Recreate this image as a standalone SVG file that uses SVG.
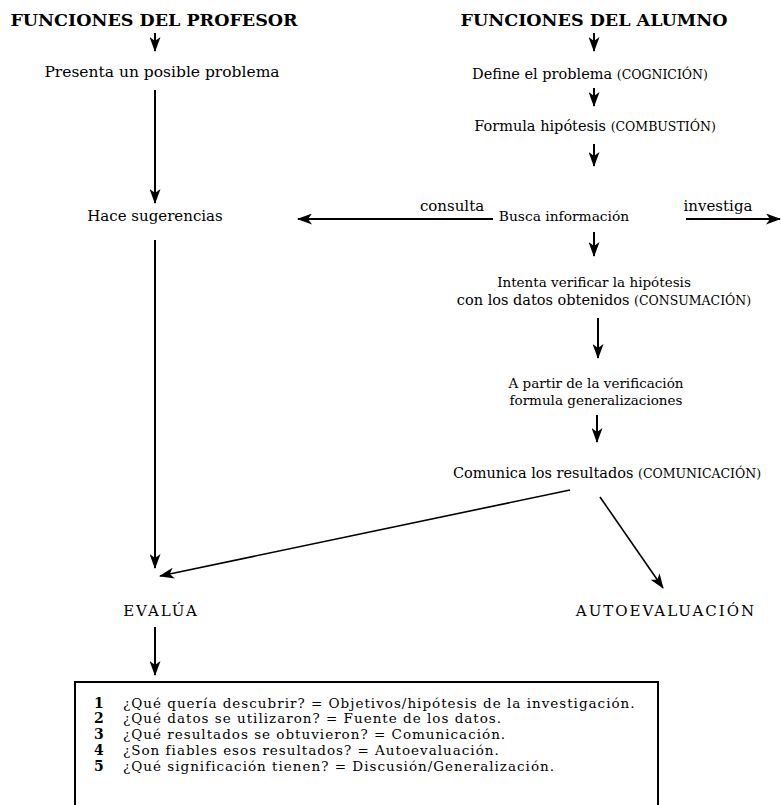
<svg xmlns="http://www.w3.org/2000/svg" width="781" height="805" viewBox="0 0 781 805">
<style>
text{font-family:"DejaVu Serif","Liberation Serif",serif;fill:#000}
.title{font-size:17.5px;font-weight:bold;text-anchor:middle}
.t{font-size:15px;text-anchor:middle}
.r{font-size:14.5px;text-anchor:middle}
.s{font-size:13.5px;text-anchor:middle}
.k{font-size:12.5px}
.caps{font-size:15px;text-anchor:middle;letter-spacing:2px}
.lst{font-size:13.5px;letter-spacing:1px}
.num{font-size:14px;font-weight:bold}
.c{stroke:#000;stroke-width:2;fill:none;marker-end:url(#ah)}
.d{stroke:#000;stroke-width:1.6;fill:none;marker-end:url(#ah)}
</style>
<defs>
<marker id="ah" markerUnits="userSpaceOnUse" markerWidth="15" markerHeight="11" refX="14" refY="5.5" orient="auto">
<path d="M0,0 L15,5.5 L0,11 L4,5.5 z" fill="#000"/>
</marker>
</defs>
<g id="prof-title"><text class="title" x="154" y="26">FUNCIONES DEL PROFESOR</text></g>
<g id="alum-title"><text class="title" x="594" y="26">FUNCIONES DEL ALUMNO</text></g>
<g id="presenta"><text class="t" x="162" y="77" style="font-size:15.5px">Presenta un posible problema</text></g>
<g id="hace"><text class="t" x="155" y="221">Hace sugerencias</text></g>
<g id="evalua"><text class="caps" x="161" y="616">EVALÚA</text></g>
<g id="define"><text class="r" x="590" y="79">Define el problema <tspan class="k">(COGNICIÓN)</tspan></text></g>
<g id="formula"><text class="r" x="595" y="131">Formula hipótesis <tspan class="k">(COMBUSTIÓN)</tspan></text></g>
<g id="busca"><text class="r" x="564" y="221" style="font-size:13.8px">Busca información</text></g>
<g id="intenta"><text class="s" x="594" y="287">Intenta verificar la hipótesis</text><text class="r" x="604" y="305">con los datos obtenidos <tspan class="k">(CONSUMACIÓN)</tspan></text></g>
<g id="apartir"><text class="s" x="596" y="388">A partir de la verificación</text><text class="s" x="596" y="405">formula generalizaciones</text></g>
<g id="comunica"><text class="r" x="607" y="478">Comunica los resultados <tspan class="k">(COMUNICACIÓN)</tspan></text></g>
<g id="autoeval"><text class="caps" x="666" y="616">AUTOEVALUACIÓN</text></g>
<g id="preguntas">
<rect x="75" y="682" width="583" height="135" fill="none" stroke="#000" stroke-width="2"/>
<text class="num" x="94" y="707.5">1</text><text class="lst" x="123" y="707.5">¿Qué quería descubrir? = Objetivos/hipótesis de la investigación.</text>
<text class="num" x="94" y="723.3">2</text><text class="lst" x="123" y="723.3">¿Qué datos se utilizaron? = Fuente de los datos.</text>
<text class="num" x="94" y="739.1">3</text><text class="lst" x="123" y="739.1">¿Qué resultados se obtuvieron? = Comunicación.</text>
<text class="num" x="94" y="754.9">4</text><text class="lst" x="123" y="754.9">¿Son fiables esos resultados? = Autoevaluación.</text>
<text class="num" x="94" y="770.7">5</text><text class="lst" x="123" y="770.7">¿Qué significación tienen? = Discusión/Generalización.</text>
</g>
<g id="connectors">
<line class="c" x1="155" y1="33" x2="155" y2="51"/>
<line class="c" x1="155" y1="90" x2="155" y2="203"/>
<line class="c" x1="155" y1="240" x2="155" y2="568"/>
<line class="c" x1="155" y1="627" x2="155" y2="675"/>
<line class="c" x1="594" y1="33" x2="594" y2="51"/>
<line class="c" x1="594" y1="88" x2="594" y2="106"/>
<line class="c" x1="594" y1="144" x2="594" y2="166"/>
<line class="c" x1="493" y1="219" x2="298" y2="219"/>
<text class="t" x="452" y="211">consulta</text>
<line class="c" x1="686" y1="219" x2="780" y2="219"/>
<text class="t" x="718" y="211">investiga</text>
<line class="c" x1="594" y1="232" x2="594" y2="256"/>
<line class="c" x1="598" y1="318" x2="598" y2="358"/>
<line class="c" x1="597" y1="415" x2="597" y2="442"/>
<line class="d" x1="570" y1="490" x2="160" y2="576"/>
<line class="d" x1="600" y1="497" x2="663" y2="588"/>
</g>
</svg>
